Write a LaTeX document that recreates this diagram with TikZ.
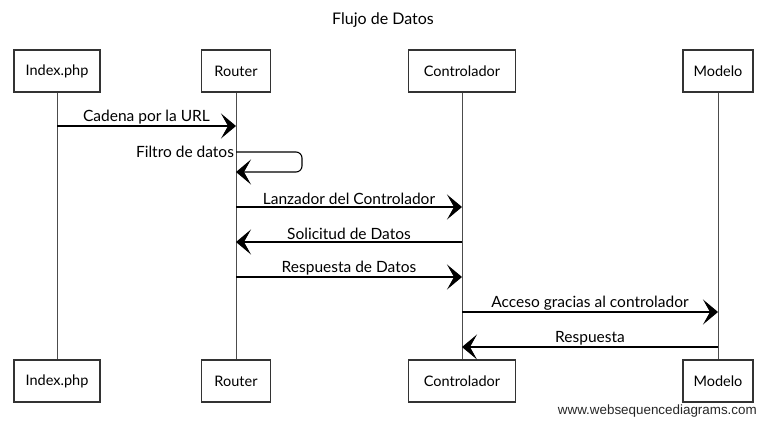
\documentclass[tikz,border=0pt]{standalone}
\usepackage{fontspec}
\setmainfont{Lato}
\newfontfamily\wsdfont{Liberation Sans}
\usetikzlibrary{arrows.meta}

\tikzset{
  actor/.style={draw=black!80, line width=1.1pt, minimum height=42, inner sep=0pt, font=\fontsize{14.5}{16}\selectfont},
  lifeline/.style={draw=black!70, line width=0.7pt},
  msg/.style={line width=1.1pt, -{Stealth[length=15pt,width=25pt,inset=7pt]}},
  lbl/.style={font=\fontsize{15.5}{17}\selectfont, inner sep=1.5pt}
}

\begin{document}
\begin{tikzpicture}[x=1pt,y=-1pt]
\useasboundingbox (0,0) rectangle (766,426);
\node[font=\fontsize{16}{18}\selectfont] (title) at (383,20) {Flujo de Datos};
% participantes arriba y abajo
\node[actor, minimum width=86] (idxT) at (57,71) {Index.php};
\node[actor, minimum width=69] (rtT) at (236,71) {Router};
\node[actor, minimum width=107] (ctT) at (462,71) {Controlador};
\node[actor, minimum width=70] (mdT) at (718,71) {Modelo};
\node[actor, minimum width=86] (idxB) at (57,381) {Index.php};
\node[actor, minimum width=69] (rtB) at (236,381) {Router};
\node[actor, minimum width=107] (ctB) at (462,381) {Controlador};
\node[actor, minimum width=70] (mdB) at (718,381) {Modelo};
\draw[lifeline] (idxT) -- (idxB);
\draw[lifeline] (rtT) -- (rtB);
\draw[lifeline] (ctT) -- (ctB);
\draw[lifeline] (mdT) -- (mdB);
% mensajes
\draw[msg] (idxT |- 0,126) -- node[lbl,above] (m1) {Cadena por la URL} (rtT |- 0,126);
\draw[msg,rounded corners=6] (rtT |- 0,152) node[lbl,left] (m2) {Filtro de datos} -- (302,152) -- (302,172) -- (rtT |- 0,172);
\draw[msg] (rtT |- 0,207) -- node[lbl,above] (m3) {Lanzador del Controlador} (ctT |- 0,207);
\draw[msg] (ctT |- 0,242) -- node[lbl,above] (m4) {Solicitud de Datos} (rtT |- 0,242);
\draw[msg] (rtT |- 0,277) -- node[lbl,above] (m5) {Respuesta de Datos} (ctT |- 0,277);
\draw[msg] (ctT |- 0,312) -- node[lbl,above] (m6) {Acceso gracias al controlador} (mdT |- 0,312);
\draw[msg] (mdT |- 0,347) -- node[lbl,above] (m7) {Respuesta} (ctT |- 0,347);
\node[anchor=east, inner sep=0pt, font=\wsdfont\fontsize{13.4}{15}\selectfont, text=black!85] (wsd) at (757,411) {www.websequencediagrams.com};
\end{tikzpicture}
\end{document}
